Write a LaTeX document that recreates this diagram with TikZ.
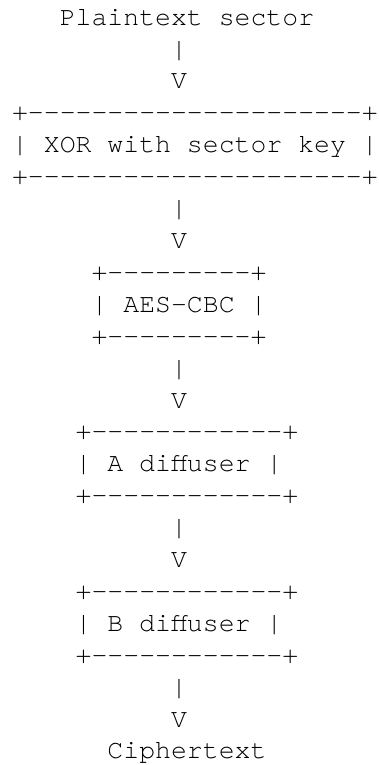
\documentclass[tikz,border=0pt]{standalone}
\usepackage{fontspec}
\setmonofont{texgyrecursor-regular.otf}
\tikzset{
  asc/.style={anchor=base west, inner sep=0pt, outer sep=0pt,
    font=\ttfamily\fontsize{26.5pt}{31.9pt}\selectfont, text=black}
}
% column x position and line baseline (pixels, y downward)
\newcommand{\colx}[1]{\fpeval{12.05+#1*15.9}pt}
\newcommand{\rowy}[1]{\fpeval{-(89+(#1-3)*31.9)}pt}
\begin{document}
\begin{tikzpicture}
\useasboundingbox (0pt,0pt) rectangle (378pt,-765pt);
\node[asc] (l1)  at (\colx{3},\rowy{1})  {Plaintext sector};
\node[asc] (l2)  at (\colx{10},\rowy{2}) {|};
\node[asc] (l3)  at (\colx{10},\rowy{3}) {V};
\node[asc] (l4)  at (\colx{0},\rowy{4})  {+---------------------+};
\node[asc] (l5)  at (\colx{0},\rowy{5})  {| XOR with sector key |};
\node[asc] (l6)  at (\colx{0},\rowy{6})  {+---------------------+};
\node[asc] (l7)  at (\colx{10},\rowy{7}) {|};
\node[asc] (l8)  at (\colx{10},\rowy{8}) {V};
\node[asc] (l9)  at (\colx{5},\rowy{9})  {+---------+};
\node[asc] (l10) at (\colx{5},\rowy{10}) {| AES-CBC |};
\node[asc] (l11) at (\colx{5},\rowy{11}) {+---------+};
\node[asc] (l12) at (\colx{10},\rowy{12}) {|};
\node[asc] (l13) at (\colx{10},\rowy{13}) {V};
\node[asc] (l14) at (\colx{4},\rowy{14}) {+------------+};
\node[asc] (l15) at (\colx{4},\rowy{15}) {| A diffuser |};
\node[asc] (l16) at (\colx{4},\rowy{16}) {+------------+};
\node[asc] (l17) at (\colx{10},\rowy{17}) {|};
\node[asc] (l18) at (\colx{10},\rowy{18}) {V};
\node[asc] (l19) at (\colx{4},\rowy{19}) {+------------+};
\node[asc] (l20) at (\colx{4},\rowy{20}) {| B diffuser |};
\node[asc] (l21) at (\colx{4},\rowy{21}) {+------------+};
\node[asc] (l22) at (\colx{10},\rowy{22}) {|};
\node[asc] (l23) at (\colx{10},\rowy{23}) {V};
\node[asc] (l24) at (\colx{6},\rowy{24}) {Ciphertext};
\end{tikzpicture}
\end{document}
